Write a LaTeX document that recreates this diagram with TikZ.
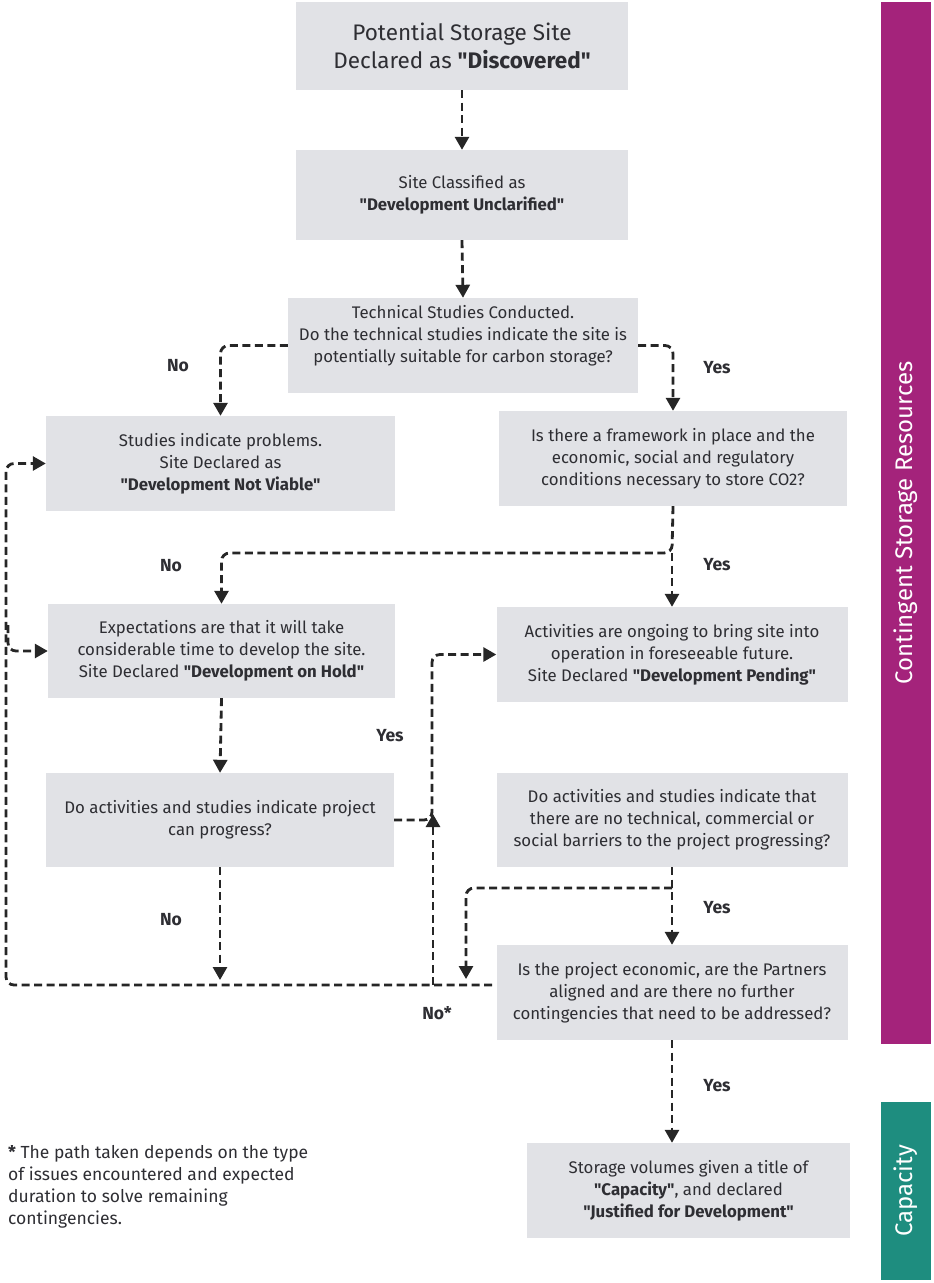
\documentclass[tikz,border=0pt]{standalone}
\usepackage{fontspec}
\setmainfont{Fira Sans}[Ligatures=TeXOff]
\usetikzlibrary{arrows.meta}
\definecolor{boxgray}{HTML}{E1E2E6}
\definecolor{txtc}{HTML}{2E2E33}
\definecolor{linec}{HTML}{262626}
\definecolor{purp}{HTML}{A4237B}
\definecolor{teal2}{HTML}{1E8D7F}
\begin{document}
\begin{tikzpicture}[x=1pt,y=-1pt,
  box/.style={fill=boxgray, inner sep=0pt, align=center, text=txtc,
    font=\fontsize{16.8}{22}\selectfont},
  txt/.style={inner sep=0pt, align=center, text=txtc, font=\fontsize{16.8}{22}\selectfont},
  conn/.style={draw=linec, line width=2.8pt, dash pattern=on 8pt off 4.5pt,
    -{Triangle[width=14pt,length=13pt]}},
  lbl/.style={inner sep=0pt, text=txtc, font=\fontsize{17.5}{20}\selectfont\bfseries},
  bar/.style={rotate=90, inner sep=0pt, text=white, font=\fontsize{24}{28}\selectfont}
]
\useasboundingbox (0,0) rectangle (934,1283);

% boxes
\node[box, minimum width=332pt, minimum height=88pt, font=\fontsize{22.5}{28}\selectfont] (b1) at (462,46)
  {Potential Storage Site\\Declared as \textbf{"Discovered"}};
\node[box, minimum width=332pt, minimum height=90pt] (b2) at (462,195)
  {Site Classified as\\\textbf{"Development Unclarified"}};
\node[box, minimum width=350pt, minimum height=95pt] (b3) at (463,345.5) {};
\node[txt] (t3) at (463,336)
  {Technical Studies Conducted.\\Do the technical studies indicate the site is\\potentially suitable for carbon storage?};
\node[box, minimum width=349pt, minimum height=95pt] (b4) at (220.5,463.5)
  {Studies indicate problems.\\Site Declared as\\\textbf{"Development Not Viable"}};
\node[box, minimum width=348pt, minimum height=95pt] (b5) at (673,458.5)
  {Is there a framework in place and the\\economic, social and regulatory\\conditions necessary to store CO2?};
\node[box, minimum width=347pt, minimum height=94pt] (b6) at (221.5,651)
  {Expectations are that it will take\\considerable time to develop the site.\\Site Declared \textbf{"Development on Hold"}};
\node[box, minimum width=351pt, minimum height=95pt] (b7) at (672,654.5)
  {Activities are ongoing to bring site into\\operation in foreseeable future.\\Site Declared \textbf{"Development Pending"}};
\node[box, minimum width=348pt, minimum height=94pt] (b8) at (220,820)
  {Do activities and studies indicate project\\can progress?};
\node[box, minimum width=351pt, minimum height=94pt] (b9) at (672,820)
  {Do activities and studies indicate that\\there are no technical, commercial or\\social barriers to the project progressing?};
\node[box, minimum width=351pt, minimum height=95pt] (b10) at (672,992.5)
  {Is the project economic, are the Partners\\aligned and are there no further\\contingencies that need to be addressed?};
\node[box, minimum width=323pt, minimum height=95pt] (b11) at (688.5,1190.5)
  {Storage volumes given a title of\\\textbf{"Capacity"}, and declared\\\textbf{"Justified for Development"}};

% side bars
\node[bar, fill=purp, minimum width=1042pt, minimum height=50pt] (sb1) at (906,523)
  {Contingent Storage Resources};
\node[bar, fill=teal2, minimum width=178pt, minimum height=50pt] (sb2) at (906,1191)
  {Capacity};

% footnote
\node[anchor=north west, align=left, inner sep=0pt, text=txtc,
  font=\fontsize{17.5}{22}\selectfont] (fn) at (8,1145)
  {\textbf{*} The path taken depends on the type\\of issues encountered and expected\\duration to solve remaining\\contingencies.};

% coordinates
\coordinate (j1) at (672,553);
\coordinate (j2) at (672,888);
\coordinate (hc) at (432,740);
\coordinate (e1) at (220,980);
\coordinate (e2) at (466,979);
\coordinate (L1) at (492,985);
\coordinate (lc) at (6,985);
\coordinate (lb) at (8,625);
\coordinate (ua0) at (433,985);
\coordinate (ua1) at (433,814);

% connectors
\draw[conn] (b1.south) -- (b2.north);
\draw[conn] (b2.south) -- (b3.north);
\draw[conn, rounded corners=8pt] (b3.west) -| (b4.north);
\draw[conn, rounded corners=8pt] (b3.east) -| (b5.north);
\draw[conn, rounded corners=8pt] (b5.south) -- (j1) -| (b6.north);
\draw[conn] (j1) -- (b7.north);
\draw[conn] (b6.south) -- (b8.north);
\draw[conn, rounded corners=8pt] (b8.east) -| (hc) |- (b7.west);
\draw[conn] (b8.south) -- (e1);
\draw[conn, rounded corners=8pt] (L1) -- (lc) |- (b4.west);
\draw[conn, rounded corners=8pt] (lb) |- (b6.west);
\draw[conn] (ua0) -- (ua1);
\draw[conn] (b9.south) -- (b10.north);
\draw[conn, rounded corners=8pt] (j2) -| (e2);
\draw[conn] (b10.south) -- (b10.south |- b11.north);

% labels
\node[lbl] (n1) at (178,366) {No};
\node[lbl] (y1) at (717,368) {Yes};
\node[lbl] (n2) at (171,566) {No};
\node[lbl] (y2) at (717,565) {Yes};
\node[lbl] (y3) at (390,736) {Yes};
\node[lbl] (n3) at (171,920) {No};
\node[lbl] (y4) at (717,908) {Yes};
\node[lbl] (n4) at (437,1013) {No*};
\node[lbl] (y5) at (717,1086) {Yes};
\end{tikzpicture}
\end{document}
